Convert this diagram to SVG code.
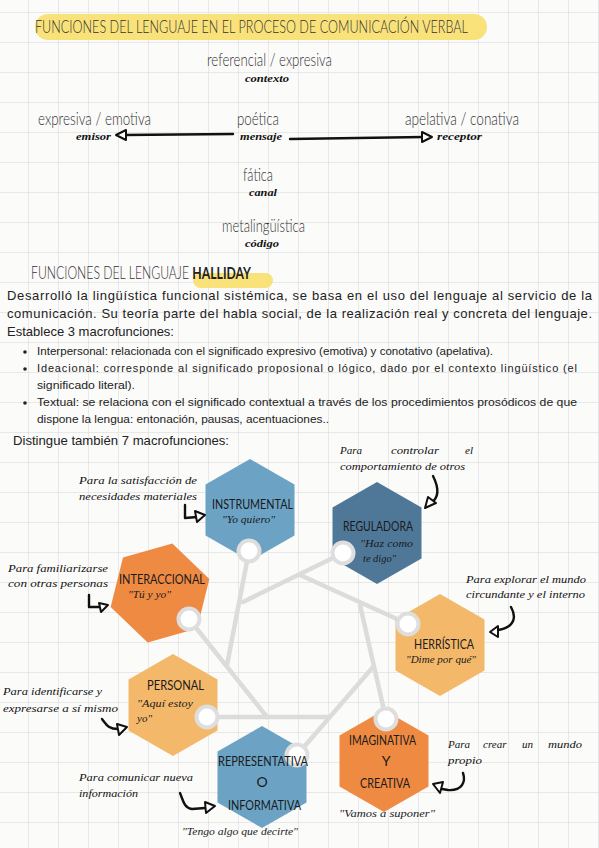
<svg xmlns="http://www.w3.org/2000/svg" width="599" height="848" viewBox="0 0 599 848">
<defs>
<pattern id="grid" width="30" height="30" patternUnits="userSpaceOnUse" x="28" y="12">
<path d="M30 0 L0 0 0 30" fill="none" stroke="#d6d6d6" stroke-width="1"/>
</pattern>
<polygon id="hex" points="0,-51 44.5,-25.5 44.5,25.5 0,51 -44.5,25.5 -44.5,-25.5"/>
</defs>
<style>
.h{font-family:Lato,'Liberation Sans',sans-serif;font-weight:300;font-size:17px;fill:#333}
.hb{font-weight:700;fill:#222}
.s{font-family:'Liberation Serif',serif;font-style:italic;font-weight:bold;font-size:10px;fill:#111}
.p{font-family:'Liberation Sans',Arial,sans-serif;font-size:13px;fill:#222}
.b{font-family:'Liberation Sans',Arial,sans-serif;font-size:11px;fill:#222}
.lab{font-family:Lato,'Liberation Sans',sans-serif;font-size:14px;fill:#1a1a1a}
.q{font-family:'Liberation Serif',serif;font-style:italic;font-size:10.5px;fill:#1a1a1a}
.ann{font-family:'Liberation Serif',serif;font-style:italic;font-size:11px;fill:#111}
.link{stroke:#dcdcdc;stroke-width:4.5;fill:none;stroke-linecap:round}
.port{fill:#fff;stroke:#dedede;stroke-width:4}
.hand{fill:none;stroke:#111;stroke-width:2.4;stroke-linecap:round;stroke-linejoin:round}
.head{fill:#fff;stroke:#111;stroke-width:2;stroke-linejoin:round}
.blue{fill:#6ca3c4}.dblue{fill:#4f7898}.orange{fill:#ef8a43}.lorange{fill:#f4b86b}
</style>
<rect width="599" height="848" fill="#fbfbfa"/>
<rect width="599" height="848" fill="url(#grid)"/>

<g id="header">
<rect x="35" y="14" width="452" height="26" rx="13" fill="#f8df6c" opacity="0.9"/>
<text class="h" x="35" y="33" font-size="15" textLength="433" lengthAdjust="spacingAndGlyphs" fill="#3a3a30">FUNCIONES DEL LENGUAJE EN EL PROCESO DE COMUNICACIÓN VERBAL</text>
</g>

<g id="comm-referencial"><text class="h" x="207" y="66" textLength="125" lengthAdjust="spacingAndGlyphs">referencial / expresiva</text><text class="s" x="245" y="82" textLength="44" lengthAdjust="spacingAndGlyphs">contexto</text></g>
<g id="comm-expresiva"><text class="h" x="38" y="125" textLength="113" lengthAdjust="spacingAndGlyphs">expresiva / emotiva</text><text class="s" x="76" y="140" textLength="35" lengthAdjust="spacingAndGlyphs">emisor</text></g>
<g id="comm-poetica"><text class="h" x="237" y="125" textLength="42" lengthAdjust="spacingAndGlyphs">poética</text><text class="s" x="240" y="140" textLength="42" lengthAdjust="spacingAndGlyphs">mensaje</text></g>
<g id="comm-apelativa"><text class="h" x="405" y="125" textLength="114" lengthAdjust="spacingAndGlyphs">apelativa / conativa</text><text class="s" x="437" y="140" textLength="45" lengthAdjust="spacingAndGlyphs">receptor</text></g>
<g id="comm-fatica"><text class="h" x="243" y="181" textLength="30" lengthAdjust="spacingAndGlyphs">fática</text><text class="s" x="249" y="196" textLength="28" lengthAdjust="spacingAndGlyphs">canal</text></g>
<g id="comm-meta"><text class="h" x="222" y="232" textLength="83" lengthAdjust="spacingAndGlyphs">metalingüística</text><text class="s" x="245" y="247" textLength="34" lengthAdjust="spacingAndGlyphs">código</text></g>

<g id="comm-arrows">
<path class="hand" d="M233,134 L124,135" stroke-width="2.6"/>
<polygon class="head" points="116,135 126,130 126,140"/>
<path class="hand" d="M290,139 L424,137" stroke-width="2.6"/>
<polygon class="head" points="432,137 422,132 422,142"/>
</g>

<g id="halliday">
<rect x="193" y="273" width="80" height="15" rx="7.5" fill="#f8df6c" opacity="0.9"/>
<text class="h" x="31" y="279" font-size="15" textLength="220" lengthAdjust="spacingAndGlyphs">FUNCIONES DEL LENGUAJE <tspan class="hb">HALLIDAY</tspan></text>
<text class="p" x="7" y="300" textLength="585" lengthAdjust="spacing">Desarrolló la lingüística funcional sistémica, se basa en el uso del lenguaje al servicio de la</text>
<text class="p" x="7" y="318" textLength="585" lengthAdjust="spacing">comunicación. Su teoría parte del habla social, de la realización real y concreta del lenguaje.</text>
<text class="p" x="7" y="336" textLength="167" lengthAdjust="spacingAndGlyphs">Establece 3 macrofunciones:</text>
<circle cx="25" cy="352" r="1.8" fill="#222"/>
<text class="b" x="37" y="355" textLength="456" lengthAdjust="spacingAndGlyphs">Interpersonal: relacionada con el significado expresivo (emotiva) y conotativo (apelativa).</text>
<circle cx="25" cy="369" r="1.8" fill="#222"/>
<text class="b" x="37" y="372" textLength="540" lengthAdjust="spacing">Ideacional: corresponde al significado proposional o lógico, dado por el contexto lingüístico (el</text>
<text class="b" x="37" y="389" textLength="98" lengthAdjust="spacingAndGlyphs">significado literal).</text>
<circle cx="25" cy="403" r="1.8" fill="#222"/>
<text class="b" x="37" y="406" textLength="540" lengthAdjust="spacingAndGlyphs">Textual: se relaciona con el significado contextual a través de los procedimientos prosódicos de que</text>
<text class="b" x="37" y="423" textLength="292" lengthAdjust="spacingAndGlyphs">dispone la lengua: entonación, pausas, acentuaciones..</text>
<text class="p" x="13" y="445" textLength="216" lengthAdjust="spacingAndGlyphs">Distingue también 7 macrofunciones:</text>
</g>

<g id="connectors">
<line class="link" x1="249" y1="551" x2="227" y2="665"/>
<line class="link" x1="343" y1="553" x2="243" y2="602"/>
<line class="link" x1="408" y1="624" x2="300" y2="575"/>
<line class="link" x1="386" y1="719" x2="360" y2="605"/>
<line class="link" x1="297" y1="755" x2="373" y2="667"/>
<line class="link" x1="207" y1="717" x2="327" y2="717"/>
<line class="link" x1="189" y1="619" x2="267" y2="717"/>
</g>

<g id="instrumental">
<use href="#hex" class="blue" transform="translate(250,510)"/>
<circle class="port" cx="249" cy="551" r="10.5"/>
<text class="lab" x="212" y="509" textLength="81" lengthAdjust="spacingAndGlyphs">INSTRUMENTAL</text>
<text class="q" x="222" y="523" textLength="53" lengthAdjust="spacingAndGlyphs">"Yo quiero"</text>
<text class="ann" x="79" y="484" textLength="118" lengthAdjust="spacingAndGlyphs">Para la satisfacción de</text>
<text class="ann" x="79" y="500" textLength="118" lengthAdjust="spacingAndGlyphs">necesidades materiales</text>
<path class="hand" d="M185,505 L185,518 L197,517"/>
<polygon class="head" points="195,511 205,515 197,522"/>
</g>

<g id="reguladora">
<use href="#hex" class="dblue" transform="translate(377,533)"/>
<circle class="port" cx="343" cy="553" r="10.5"/>
<text class="lab" x="343" y="531" textLength="70" lengthAdjust="spacingAndGlyphs">REGULADORA</text>
<text class="q" x="360" y="547" textLength="53" lengthAdjust="spacingAndGlyphs">"Haz como</text>
<text class="q" x="363" y="562" textLength="33" lengthAdjust="spacingAndGlyphs">te digo"</text>
<text class="ann" x="340" y="454">Para</text>
<text class="ann" x="391" y="454" textLength="48" lengthAdjust="spacingAndGlyphs">controlar</text>
<text class="ann" x="465" y="454">el</text>
<text class="ann" x="340" y="470" textLength="125" lengthAdjust="spacingAndGlyphs">comportamiento de otros</text>
<path class="hand" d="M433,476 C438,486 440,497 431,503"/>
<polygon class="head" points="425,508 428,497 436,503"/>
</g>

<g id="interaccional">
<use href="#hex" class="orange" transform="translate(160,593) rotate(14)"/>
<circle class="port" cx="189" cy="619" r="10.5"/>
<text class="lab" x="119" y="584" textLength="86" lengthAdjust="spacingAndGlyphs">INTERACCIONAL</text>
<text class="q" x="128" y="598" textLength="43" lengthAdjust="spacingAndGlyphs">"Tú y yo"</text>
<text class="ann" x="8" y="572" textLength="100" lengthAdjust="spacingAndGlyphs">Para familiarizarse</text>
<text class="ann" x="8" y="587" textLength="100" lengthAdjust="spacingAndGlyphs">con otras personas</text>
<path class="hand" d="M89,595 L89,607 L100,607"/>
<polygon class="head" points="99,603 108,605 101,612"/>
</g>

<g id="herristica">
<use href="#hex" class="lorange" transform="translate(440,645)"/>
<circle class="port" cx="408" cy="624" r="10.5"/>
<text class="lab" x="414" y="649" textLength="60" lengthAdjust="spacingAndGlyphs">HERRÍSTICA</text>
<text class="q" x="406" y="663" textLength="70" lengthAdjust="spacingAndGlyphs">"Dime por qué"</text>
<text class="ann" x="466" y="583" textLength="120" lengthAdjust="spacingAndGlyphs">Para explorar el mundo</text>
<text class="ann" x="466" y="598" textLength="119" lengthAdjust="spacingAndGlyphs">circundante y el interno</text>
<path class="hand" d="M511,607 C516,616 516,627 498,630"/>
<polygon class="head" points="490,632 498,626 498,637"/>
</g>

<g id="personal">
<use href="#hex" class="lorange" transform="translate(173,705)"/>
<circle class="port" cx="207" cy="717" r="10.5"/>
<text class="lab" x="147" y="690" textLength="57" lengthAdjust="spacingAndGlyphs">PERSONAL</text>
<text class="q" x="137" y="707" textLength="56" lengthAdjust="spacingAndGlyphs">"Aquí estoy</text>
<text class="q" x="137" y="722" textLength="15" lengthAdjust="spacingAndGlyphs">yo"</text>
<text class="ann" x="3" y="695" textLength="99" lengthAdjust="spacingAndGlyphs">Para identificarse y</text>
<text class="ann" x="3" y="712" textLength="115" lengthAdjust="spacingAndGlyphs">expresarse a sí mismo</text>
<path class="hand" d="M102,719 C106,724 108,729 118,729"/>
<polygon class="head" points="127,727 117,724 119,735"/>
</g>

<g id="representativa">
<use href="#hex" class="blue" transform="translate(262,777)"/>
<circle class="port" cx="297" cy="755" r="10.5"/>
<text class="lab" x="218" y="766" textLength="90" lengthAdjust="spacingAndGlyphs">REPRESENTATIVA</text>
<text class="lab" x="262" y="787" text-anchor="middle">O</text>
<text class="lab" x="228" y="810" textLength="73" lengthAdjust="spacingAndGlyphs">INFORMATIVA</text>
<text class="q" x="182" y="835" textLength="116" lengthAdjust="spacingAndGlyphs">"Tengo algo que decirte"</text>
<text class="ann" x="79" y="781" textLength="114" lengthAdjust="spacingAndGlyphs">Para comunicar nueva</text>
<text class="ann" x="79" y="797" textLength="59" lengthAdjust="spacingAndGlyphs">información</text>
<path class="hand" d="M180,793 C183,800 184,808 192,809 L205,808"/>
<polygon class="head" points="215,806 205,802 206,813"/>
</g>

<g id="imaginativa">
<use href="#hex" class="orange" transform="translate(384,761)"/>
<circle class="port" cx="386" cy="719" r="10.5"/>
<text class="lab" x="349" y="745" textLength="67" lengthAdjust="spacingAndGlyphs">IMAGINATIVA</text>
<text class="lab" x="386" y="766" text-anchor="middle">Y</text>
<text class="lab" x="360" y="788" textLength="50" lengthAdjust="spacingAndGlyphs">CREATIVA</text>
<text class="q" x="339" y="817" textLength="96" lengthAdjust="spacingAndGlyphs">"Vamos a suponer"</text>
<text class="ann" x="448" y="748">Para</text>
<text class="ann" x="483" y="748">crear</text>
<text class="ann" x="522" y="748">un</text>
<text class="ann" x="548" y="748" textLength="34" lengthAdjust="spacingAndGlyphs">mundo</text>
<text class="ann" x="448" y="764" textLength="34" lengthAdjust="spacingAndGlyphs">propio</text>
<path class="hand" d="M463,773 C466,782 462,791 448,790 L442,789"/>
<polygon class="head" points="433,784 443,782 440,793"/>
</g>
</svg>
